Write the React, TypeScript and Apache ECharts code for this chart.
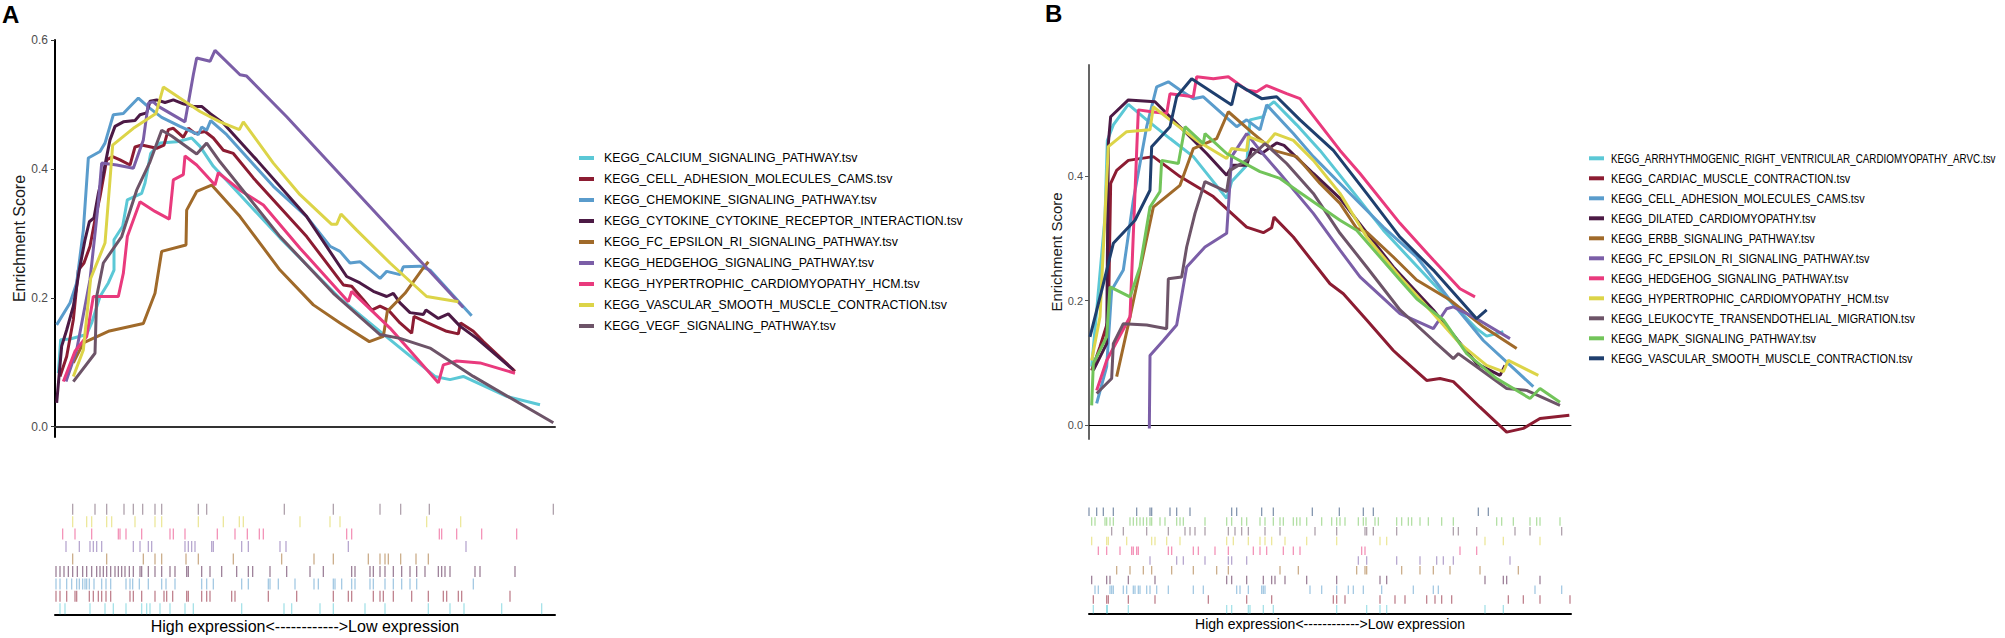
import React, { useEffect, useRef } from "react";
import * as echarts from "echarts";

// ---------- Panel A ----------
const namesA = [
  "KEGG_CALCIUM_SIGNALING_PATHWAY.tsv",
  "KEGG_CELL_ADHESION_MOLECULES_CAMS.tsv",
  "KEGG_CHEMOKINE_SIGNALING_PATHWAY.tsv",
  "KEGG_CYTOKINE_CYTOKINE_RECEPTOR_INTERACTION.tsv",
  "KEGG_FC_EPSILON_RI_SIGNALING_PATHWAY.tsv",
  "KEGG_HEDGEHOG_SIGNALING_PATHWAY.tsv",
  "KEGG_HYPERTROPHIC_CARDIOMYOPATHY_HCM.tsv",
  "KEGG_VASCULAR_SMOOTH_MUSCLE_CONTRACTION.tsv",
  "KEGG_VEGF_SIGNALING_PATHWAY.tsv",
];
const colorsA = ["#5bc8d6", "#8c1c32", "#5a9ccc", "#4c1a45", "#a06a2a", "#7b5ea7", "#e93a7d", "#dcd448", "#6d5468"];

const calciumA = [[10,0.083],[17,0.135],[45,0.136],[95,0.143],[110,0.161],[135,0.202],[160,0.223],[177,0.243],[177,0.29],[203,0.311],[217,0.352],[260,0.362],[270,0.378],[287,0.424],[315,0.44],[365,0.442],[410,0.448],[435,0.435],[475,0.404],[555,0.36],[675,0.293],[855,0.199],[1005,0.135],[1140,0.078],[1185,0.073],[1225,0.078],[1355,0.047],[1455,0.034]];
const cellAdhesionA = [[15,0.078],[35,0.109],[55,0.166],[70,0.243],[87,0.254],[105,0.28],[120,0.321],[135,0.357],[155,0.414],[173,0.419],[195,0.414],[225,0.406],[240,0.434],[260,0.437],[305,0.432],[327,0.437],[340,0.461],[355,0.463],[385,0.449],[400,0.463],[420,0.455],[450,0.458],[475,0.448],[505,0.429],[535,0.424],[595,0.386],[755,0.295],[865,0.22],[890,0.218],[925,0.197],[950,0.181],[975,0.187],[1000,0.181],[1035,0.161],[1070,0.145],[1077,0.171],[1115,0.162],[1175,0.148],[1210,0.144],[1217,0.161],[1255,0.148],[1285,0.132],[1380,0.086]];
const chemokineA = [[5,0.158],[45,0.192],[65,0.223],[85,0.305],[100,0.417],[135,0.427],[150,0.44],[175,0.484],[205,0.486],[220,0.494],[250,0.51],[285,0.494],[320,0.48],[375,0.466],[430,0.453],[440,0.465],[455,0.46],[467,0.475],[515,0.453],[655,0.373],[755,0.326],[825,0.28],[855,0.272],[885,0.254],[915,0.256],[975,0.23],[995,0.241],[1035,0.236],[1045,0.248],[1095,0.249],[1125,0.243],[1250,0.172]];
const cytokineA = [[5,0.037],[20,0.125],[35,0.15],[55,0.187],[73,0.243],[90,0.29],[103,0.318],[117,0.324],[130,0.362],[145,0.393],[165,0.445],[180,0.466],[205,0.473],[240,0.475],[255,0.484],[275,0.487],[285,0.505],[305,0.507],[330,0.503],[355,0.507],[385,0.501],[415,0.497],[440,0.497],[465,0.486],[505,0.471],[605,0.414],[755,0.326],[875,0.233],[915,0.223],[955,0.21],[995,0.202],[1015,0.207],[1035,0.192],[1065,0.177],[1105,0.174],[1113,0.181],[1150,0.168],[1180,0.175],[1215,0.156],[1265,0.137],[1375,0.088]];
const fcEpsilonA = [[55,0.099],[85,0.13],[160,0.148],[265,0.16],[300,0.207],[320,0.272],[393,0.282],[395,0.336],[425,0.365],[470,0.375],[555,0.326],[675,0.243],[775,0.189],[855,0.161],[943,0.132],[985,0.14],[997,0.179],[1050,0.207],[1100,0.243],[1120,0.256]];
const hedgehogA = [[33,0.07],[65,0.119],[105,0.228],[130,0.347],[140,0.409],[185,0.406],[235,0.401],[265,0.445],[280,0.502],[295,0.504],[310,0.497],[390,0.473],[415,0.546],[425,0.572],[465,0.567],[480,0.584],[555,0.546],[575,0.544],[695,0.481],[1225,0.185]];
const hypertrophicA = [[25,0.07],[60,0.117],[95,0.14],[115,0.202],[190,0.202],[205,0.238],[217,0.295],[255,0.349],[300,0.334],[343,0.322],[355,0.383],[385,0.391],[390,0.42],[425,0.406],[480,0.375],[490,0.394],[555,0.367],[625,0.344],[735,0.277],[880,0.194],[890,0.21],[1005,0.153],[1150,0.068],[1165,0.096],[1205,0.102],[1275,0.099],[1380,0.083]];
const vascularA = [[55,0.078],[85,0.119],[107,0.23],[150,0.285],[165,0.383],[173,0.437],[235,0.463],[303,0.486],[325,0.527],[435,0.489],[495,0.473],[553,0.461],[565,0.473],[655,0.409],[735,0.36],[830,0.314],[845,0.314],[858,0.33],[905,0.305],[1005,0.254],[1115,0.202],[1210,0.194]];
const vegfA = [[55,0.07],[120,0.114],[125,0.202],[145,0.254],[200,0.295],[245,0.367],[285,0.411],[320,0.46],[350,0.451],[425,0.423],[455,0.44],[495,0.411],[675,0.295],[835,0.207],[975,0.143],[1035,0.137],[1125,0.122],[1255,0.078],[1495,0.006]];
const linesA = [calciumA, cellAdhesionA, chemokineA, cytokineA, fcEpsilonA, hedgehogA, hypertrophicA, vascularA, vegfA];

// rug (hit positions, gene rank)
const rugCalciumA = [15,30,105,150,175,213,260,275,285,315,345,390,415,560,687,710,795,835,930,990,1120,1185,1227,1340,1460];
const rugCellAdhesionA = [3,15,35,60,65,103,115,130,140,153,167,225,235,260,300,327,335,353,395,400,440,455,465,530,540,640,725,835,880,890,955,975,985,1015,1070,1120,1165,1175,1210,1220,1365];
const rugChemokineA = [3,15,35,50,65,73,83,90,95,103,117,140,153,167,213,225,233,253,280,320,333,360,440,455,475,560,580,640,645,670,720,777,790,835,840,860,890,900,945,955,990,1015,1040,1065,1085,1255];
const rugCytokineA = [3,15,27,40,53,67,83,95,110,125,135,145,155,167,180,190,200,210,223,235,255,260,280,300,320,345,360,395,400,440,465,500,545,580,593,645,695,765,805,890,900,945,955,975,990,1015,1040,1065,1085,1110,1150,1160,1170,1185,1260,1275,1380];
const rugFcEpsilonA = [53,155,265,300,320,393,430,535,680,777,835,940,975,990,1000,1037,1083,1120];
const rugHedgehogA = [33,73,105,115,125,140,235,255,280,290,390,400,410,420,470,475,560,580,675,693,880,1233];
const rugHypertrophicA = [23,60,110,190,195,213,260,345,355,390,487,540,577,613,625,875,890,1153,1160,1205,1280,1385];
const rugVascularA = [53,95,110,155,170,240,300,320,430,505,553,565,735,825,855,1115,1217];
const rugVegfA = [53,120,155,207,235,263,300,320,430,455,688,835,975,1037,1123,1495];
const rugsA = [rugCalciumA, rugCellAdhesionA, rugChemokineA, rugCytokineA, rugFcEpsilonA, rugHedgehogA, rugHypertrophicA, rugVascularA, rugVegfA];

// ---------- Panel B ----------
const namesB = [
  "KEGG_ARRHYTHMOGENIC_RIGHT_VENTRICULAR_CARDIOMYOPATHY_ARVC.tsv",
  "KEGG_CARDIAC_MUSCLE_CONTRACTION.tsv",
  "KEGG_CELL_ADHESION_MOLECULES_CAMS.tsv",
  "KEGG_DILATED_CARDIOMYOPATHY.tsv",
  "KEGG_ERBB_SIGNALING_PATHWAY.tsv",
  "KEGG_FC_EPSILON_RI_SIGNALING_PATHWAY.tsv",
  "KEGG_HEDGEHOG_SIGNALING_PATHWAY.tsv",
  "KEGG_HYPERTROPHIC_CARDIOMYOPATHY_HCM.tsv",
  "KEGG_LEUKOCYTE_TRANSENDOTHELIAL_MIGRATION.tsv",
  "KEGG_MAPK_SIGNALING_PATHWAY.tsv",
  "KEGG_VASCULAR_SMOOTH_MUSCLE_CONTRACTION.tsv",
];
const colorsB = ["#5bc8d6", "#8c1c32", "#5a9ccc", "#4c1a45", "#a06a2a", "#7b5ea7", "#e93a7d", "#dcd448", "#6d5468", "#72c45a", "#1f3f6e"];

const arvcB = [[8,0.094],[48,0.334],[55,0.457],[73,0.482],[118,0.515],[173,0.49],[243,0.46],[313,0.431],[413,0.364],[428,0.391],[473,0.417],[483,0.49],[523,0.495],[533,0.51],[555,0.519],[623,0.482],[693,0.441],[753,0.401],[883,0.313],[1033,0.227],[1163,0.155],[1193,0.143],[1243,0.15]];
const cardiacB = [[8,0.088],[33,0.126],[58,0.169],[65,0.388],[83,0.409],[118,0.425],[193,0.431],[273,0.399],[373,0.367],[473,0.318],[523,0.309],[548,0.317],[555,0.334],[613,0.302],[723,0.227],[763,0.211],[833,0.169],[913,0.12],[933,0.11],[1013,0.072],[1053,0.075],[1093,0.07],[1173,0.029],[1253,-0.011],[1303,-0.005],[1353,0.011],[1441,0.016]];
const cellAdhesionB = [[23,0.035],[53,0.094],[68,0.217],[103,0.249],[133,0.361],[173,0.479],[203,0.543],[238,0.551],[273,0.538],[313,0.524],[343,0.527],[443,0.479],[473,0.49],[513,0.474],[533,0.514],[613,0.468],[673,0.431],[753,0.388],[883,0.318],[983,0.27],[1083,0.201],[1183,0.136],[1333,0.062]];
const dilatedB = [[13,0.088],[53,0.131],[58,0.452],[65,0.495],[118,0.522],[198,0.519],[273,0.479],[353,0.436],[413,0.401],[431,0.417],[473,0.417],[488,0.444],[518,0.436],[563,0.453],[585,0.449],[673,0.404],[753,0.364],[913,0.254],[1033,0.185],[1163,0.099],[1233,0.08],[1248,0.096]];
const erbbB = [[83,0.078],[123,0.174],[193,0.35],[273,0.385],[313,0.444],[383,0.46],[418,0.503],[493,0.468],[553,0.441],[623,0.431],[693,0.388],[753,0.356],[803,0.316],[833,0.31],[913,0.27],[983,0.233],[1083,0.201],[1183,0.158],[1283,0.123]];
const fcEpsilonB = [[181,-0.005],[183,0.112],[223,0.136],[263,0.161],[293,0.254],[348,0.286],[413,0.308],[428,0.431],[473,0.468],[513,0.441],[573,0.404],[673,0.34],[753,0.281],[813,0.238],[933,0.179],[1033,0.155],[1073,0.187],[1093,0.19],[1153,0.174],[1263,0.139]];
const hedgehogB = [[23,0.056],[53,0.104],[123,0.174],[148,0.506],[188,0.503],[233,0.5],[243,0.532],[313,0.527],[323,0.559],[373,0.556],[418,0.559],[473,0.538],[503,0.535],[533,0.545],[593,0.532],[633,0.524],[753,0.441],[813,0.404],[933,0.324],[1033,0.265],[1113,0.219],[1158,0.206]];
const hypertrophicB = [[8,0.104],[33,0.174],[58,0.447],[113,0.471],[183,0.474],[193,0.511],[243,0.49],[323,0.457],[413,0.428],[428,0.444],[473,0.441],[478,0.463],[533,0.452],[558,0.468],[613,0.457],[673,0.425],[753,0.372],[833,0.302],[933,0.238],[1033,0.179],[1113,0.131],[1193,0.096],[1243,0.086],[1258,0.104],[1348,0.08]];
const leukocyteB = [[23,0.051],[68,0.075],[73,0.131],[103,0.163],[173,0.161],[233,0.155],[238,0.235],[278,0.238],[293,0.286],[318,0.34],[348,0.391],[413,0.375],[423,0.409],[473,0.425],[528,0.452],[593,0.42],[673,0.372],[753,0.308],[833,0.254],[933,0.185],[1033,0.136],[1093,0.107],[1108,0.115],[1163,0.094],[1253,0.059],[1313,0.056],[1413,0.032]];
const mapkB = [[8,0.032],[13,0.099],[53,0.142],[63,0.222],[123,0.206],[153,0.254],[183,0.35],[213,0.375],[218,0.425],[268,0.42],[288,0.479],[343,0.452],[348,0.468],[413,0.436],[513,0.407],[573,0.396],[623,0.377],[753,0.329],[803,0.313],[933,0.233],[983,0.203],[1063,0.169],[1133,0.115],[1223,0.075],[1323,0.043],[1353,0.059],[1413,0.037]];
const vascularB = [[3,0.142],[43,0.227],[73,0.292],[138,0.329],[183,0.377],[188,0.447],[243,0.479],[263,0.527],[308,0.556],[428,0.514],[443,0.548],[518,0.524],[563,0.527],[633,0.49],[733,0.441],[833,0.372],[933,0.302],[1033,0.249],[1163,0.171],[1193,0.185]];
const linesB = [arvcB, cardiacB, cellAdhesionB, dilatedB, erbbB, fcEpsilonB, hedgehogB, hypertrophicB, leukocyteB, mapkB, vascularB];

const rugArvcB = [13,53,55,118,413,428,478,483,523,553,743,833,873,893,1188,1243];
const rugCardiacB = [13,53,58,118,198,358,473,548,733,743,768,873,918,948,1013,1038,1058,1088,1258,1303,1353,1443];
const rugCellAdhesionB = [18,28,63,68,73,103,113,133,138,148,153,173,183,203,238,313,343,443,453,478,518,523,528,663,698,743,778,793,823,878,973,1033,1048,1338,1418];
const rugDilatedB = [8,53,63,118,198,413,428,473,523,548,558,588,653,743,873,893,1188,1243,1253,1353];
const rugErbbB = [83,123,163,188,248,313,383,418,573,628,803,828,833,938,993,1033,1083,1173,1288];
const rugFcEpsilonB = [183,263,283,348,418,428,473,808,833,923,993,1043,1063,1093,1263];
const rugHedgehogB = [28,53,93,128,133,143,148,238,248,313,328,378,418,493,513,533,583,613,633,818,828,1113,1163];
const rugHypertrophicB = [8,53,58,113,188,198,233,273,413,433,478,513,528,548,588,653,743,873,893,1188,1243,1353];
const rugLeukocyteB = [68,103,173,238,288,303,318,348,418,438,458,478,528,573,678,743,828,833,853,923,1093,1108,1163,1278,1323,1418];
const rugMapkB = [8,18,48,53,63,73,123,133,143,153,163,173,183,188,213,228,263,273,283,348,413,428,458,473,513,528,553,573,583,613,623,633,653,698,728,743,753,768,808,823,831,858,868,923,938,958,968,993,1018,1058,1093,1223,1238,1273,1323,1343,1353,1413];
const rugVascularB = [0,23,43,73,143,183,188,243,263,303,428,443,518,553,670,751,823,853,1168,1198];
const rugsB = [rugArvcB, rugCardiacB, rugCellAdhesionB, rugDilatedB, rugErbbB, rugFcEpsilonB, rugHedgehogB, rugHypertrophicB, rugLeukocyteB, rugMapkB, rugVascularB];

const ticksA = [0, 0.2, 0.4, 0.6];
const ticksB = [0, 0.2, 0.4];
const xLabel = "High expression<------------>Low expression";
const yTitle = "Enrichment Score";

const SANS = "'Liberation Sans', Arial, Helvetica, sans-serif";

function buildOption() {
  const series: any[] = [];
  linesA.forEach((d, i) => {
    series.push({
      type: "line", name: namesA[i], xAxisIndex: 0, yAxisIndex: 0, data: d,
      symbol: "none", showSymbol: false, silent: true,
      lineStyle: { width: 3, color: colorsA[i] }, itemStyle: { color: colorsA[i] },
    });
  });
  rugsA.forEach((d, i) => {
    series.push({
      type: "scatter", name: "rugA" + i, xAxisIndex: 1, yAxisIndex: 1,
      data: d.map((r) => [r, i]), symbol: "rect", symbolSize: [1.3, 11], silent: true,
      itemStyle: { color: colorsA[i], opacity: 0.55 },
    });
  });
  linesB.forEach((d, i) => {
    series.push({
      type: "line", name: "B|" + namesB[i], xAxisIndex: 2, yAxisIndex: 2, data: d,
      symbol: "none", showSymbol: false, silent: true,
      lineStyle: { width: 3, color: colorsB[i] }, itemStyle: { color: colorsB[i] },
    });
  });
  rugsB.forEach((d, i) => {
    series.push({
      type: "scatter", name: "rugB" + i, xAxisIndex: 3, yAxisIndex: 3,
      data: d.map((r) => [r, i]), symbol: "rect", symbolSize: [1.3, 8.5], silent: true,
      itemStyle: { color: colorsB[i], opacity: 0.55 },
    });
  });

  // Panel B legend (its figure is horizontally compressed, so the labels are drawn narrowed)
  const legendB: any[] = [];
  namesB.forEach((n, i) => {
    const cy = 158.3 + i * 20;
    legendB.push({ type: "rect", x: 1589, y: cy - 2, shape: { x: 0, y: 0, width: 15, height: 4 }, style: { fill: colorsB[i] }, silent: true });
    legendB.push({
      type: "text", x: 1611, y: cy, scaleX: i === 0 ? 0.8 : 0.88, silent: true,
      style: { text: n, fontSize: 12.3, fontFamily: SANS, fill: "#000", verticalAlign: "middle", align: "left" },
    });
  });

  const hidden = { axisTick: { show: false }, axisLabel: { show: false }, splitLine: { show: false } };

  return {
    animation: false,
    backgroundColor: "#ffffff",
    textStyle: { fontFamily: SANS },
    title: [
      { text: "A", left: 2, top: 2, padding: 0, textStyle: { fontSize: 24, fontWeight: "bold", color: "#000", fontFamily: SANS } },
      { text: "B", left: 1045, top: 1, padding: 0, textStyle: { fontSize: 24, fontWeight: "bold", color: "#000", fontFamily: SANS } },
    ],
    grid: [
      { left: 55, top: 40, width: 500, height: 397 },
      { left: 55, top: 503, width: 500, height: 112 },
      { left: 1089, top: 65, width: 482, height: 374 },
      { left: 1089, top: 507, width: 482, height: 107 },
    ],
    xAxis: [
      { gridIndex: 0, type: "value", min: 0, max: 1500, axisLine: { show: true, onZero: true, lineStyle: { color: "#333", width: 2 } }, ...hidden },
      { gridIndex: 1, type: "value", min: 0, max: 1500, axisLine: { show: true, onZero: false, lineStyle: { color: "#000", width: 2 } }, ...hidden,
        name: xLabel, nameLocation: "middle", nameGap: 3, nameTextStyle: { fontSize: 16, color: "#000", fontFamily: SANS } },
      { gridIndex: 2, type: "value", min: 0, max: 1446, axisLine: { show: true, onZero: true, lineStyle: { color: "#000", width: 1 } }, ...hidden },
      { gridIndex: 3, type: "value", min: 0, max: 1446, axisLine: { show: true, onZero: false, lineStyle: { color: "#000", width: 2 } }, ...hidden,
        name: xLabel, nameLocation: "middle", nameGap: 3, nameTextStyle: { fontSize: 14, color: "#000", fontFamily: SANS } },
    ],
    yAxis: [
      { gridIndex: 0, type: "value", min: -0.016, max: 0.6,
        axisLine: { show: true, lineStyle: { color: "#000", width: 2 } },
        axisTick: { show: true, length: 4, customValues: ticksA, lineStyle: { color: "#333", width: 1 } },
        axisLabel: { show: true, customValues: ticksA, formatter: (v: number) => v.toFixed(1), fontSize: 12, color: "#4d4d4d", margin: 7, fontFamily: SANS },
        splitLine: { show: false },
        name: yTitle, nameLocation: "middle", nameGap: 27, nameTextStyle: { fontSize: 16, color: "#1a1a1a", fontFamily: SANS } },
      { gridIndex: 1, type: "category", data: namesA, show: false },
      { gridIndex: 2, type: "value", min: -0.022, max: 0.578,
        axisLine: { show: true, lineStyle: { color: "#555", width: 1.8 } },
        axisTick: { show: true, length: 4, customValues: ticksB, lineStyle: { color: "#555", width: 1 } },
        axisLabel: { show: true, customValues: ticksB, formatter: (v: number) => v.toFixed(1), fontSize: 11, color: "#4d4d4d", margin: 6, fontFamily: SANS },
        splitLine: { show: false },
        name: yTitle, nameLocation: "middle", nameGap: 22, nameTextStyle: { fontSize: 15, color: "#1a1a1a", fontFamily: SANS } },
      { gridIndex: 3, type: "category", data: namesB, show: false },
    ],
    legend: [
      { orient: "vertical", left: 579, top: 151, padding: 0, itemWidth: 15, itemHeight: 4, itemGap: 7, icon: "rect",
        data: namesA, selectedMode: false,
        textStyle: { fontSize: 12.3, lineHeight: 14, color: "#000", fontFamily: SANS, padding: [0, 0, 0, 5] } },
    ],
    graphic: legendB,
    series,
  };
}

export default function App() {
  const ref = useRef<HTMLDivElement>(null);
  useEffect(() => {
    if (!ref.current) return;
    const chart = echarts.init(ref.current, null, { renderer: "svg" });
    chart.setOption(buildOption() as any);
    return () => chart.dispose();
  }, []);
  return (
    <div
      ref={ref}
      style={{ position: "fixed", left: 0, top: 0, width: 2005, height: 638, background: "#fff" }}
    />
  );
}
